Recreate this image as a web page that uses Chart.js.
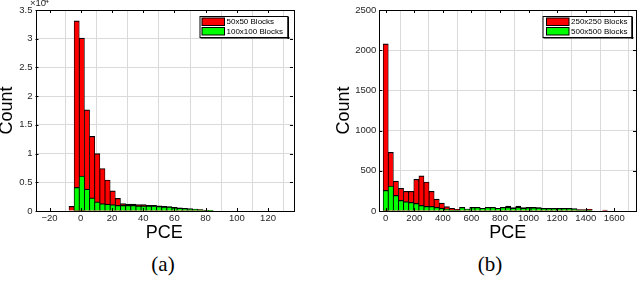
<!DOCTYPE html>
<html>
<head>
<meta charset="utf-8">
<script src="https://cdn.jsdelivr.net/npm/chart.js@4"></script>
<style>
  html, body { margin: 0; padding: 0; background: #fff; width: 638px; height: 282px; overflow: hidden; }
  canvas { position: absolute; top: 0; }
  #histA { left: 0; }
  #histB { left: 320px; }
  .cap { position: absolute; top: 252px; font-family: 'Liberation Serif', serif; font-size: 21px; color: #000; text-align: center; }
</style>
</head>
<body>
<canvas id="histA" width="320" height="245"></canvas>
<canvas id="histB" width="318" height="245"></canvas>
<div class="cap" style="left:113px;width:100px">(a)</div>
<div class="cap" style="left:440px;width:100px">(b)</div>
<script>
/* Histogramas PCE: (a) bloques pequeños, (b) bloques grandes */

// ---- Datos (a): centros de bin y cuentas (x10^4) ----
const pceA = [-5.9, -2.6, 0.7, 4.0, 7.3, 10.6, 13.9, 17.2, 20.5, 23.8, 27.1, 30.4, 33.7, 37.0,
  40.3, 43.6, 46.9, 50.2, 53.5, 56.8, 60.1, 63.4, 66.7, 70.0, 73.3, 76.6, 79.9, 83.2];
const blocks50 = [0.08, 3.31, 3.01, 1.76, 1.30, 1.00, 0.74, 0.54, 0.35, 0.22, 0.13, 0.12, 0.12, 0.11,
  0.11, 0.10, 0.10, 0.09, 0.08, 0.075, 0.065, 0.055, 0.045, 0.04, 0.035, 0.025, 0.015, 0.01];
const blocks100 = [0, 0.41, 0.61, 0.38, 0.23, 0.16, 0.13, 0.12, 0.11, 0.10, 0.10, 0.10, 0.10, 0.09,
  0.09, 0.09, 0.09, 0.08, 0.07, 0.07, 0.06, 0.05, 0.04, 0.03, 0.03, 0.02, 0.01, 0.005];
const ticksAX = [-20, 0, 20, 40, 60, 80, 100, 120];
const ticksAY = [0, 0.5, 1, 1.5, 2, 2.5, 3, 3.5];

// ---- Datos (b) ----
const pceB = [0, 35.7, 71.4, 107.1, 142.8, 178.5, 214.2, 249.9, 285.6, 321.3, 357.0, 392.7, 428.4,
  464.1, 499.8, 535.5, 571.2, 606.9, 642.6, 678.3, 714.0, 749.7, 785.4, 821.1, 856.8, 892.5, 928.2,
  963.9, 999.6, 1035.3, 1071.0, 1106.7, 1142.4, 1178.1, 1213.8, 1249.5, 1285.2, 1320.9, 1356.6,
  1392.3, 1428.0, 1463.7, 1499.4, 1535.1];
const blocks250 = [2080, 730, 373, 282, 245, 245, 394, 436, 361, 245, 149, 98, 55, 33, 21, 46, 25,
  46, 46, 33, 46, 46, 33, 46, 62, 42, 62, 42, 46, 46, 42, 33, 33, 33, 33, 33, 33, 30, 18, 18, 20, 0, 0, 10];
const blocks500 = [257, 311, 195, 133, 116, 108, 95, 70, 58, 58, 46, 37, 25, 10, 8, 46, 25,
  46, 46, 33, 46, 46, 33, 46, 46, 33, 46, 33, 42, 42, 38, 28, 28, 28, 28, 28, 28, 25, 8, 8, 8, 0, 0, 0];
const ticksBX = [0, 200, 400, 600, 800, 1000, 1200, 1400, 1600];
const ticksBY = [0, 500, 1000, 1500, 2000, 2500];

const RED = '#ff0000';
const GREEN = '#00ff00';
const TICK_FONT = { family: "'Liberation Sans', Arial, sans-serif", size: 9.5 };
const fmt = (v) => (v < 0 ? '\u2212' + Math.abs(v) : String(v));

// marco estilo MATLAB: caja, ticks hacia dentro, leyenda interior, exponente
const frame = {
  id: 'frame',
  afterDatasetsDraw(chart, args, opts) {
    const { ctx, chartArea: a, scales } = chart;
    ctx.save();
    ctx.strokeStyle = '#000';
    ctx.lineWidth = 1;
    ctx.beginPath();
    scales.x.ticks.forEach((t) => {
      const px = Math.round(scales.x.getPixelForValue(t.value)) + 0.5;
      ctx.moveTo(px, a.bottom); ctx.lineTo(px, a.bottom - 3);
      ctx.moveTo(px, a.top); ctx.lineTo(px, a.top + 3);
    });
    scales.y.ticks.forEach((t) => {
      const py = Math.round(scales.y.getPixelForValue(t.value)) + 0.5;
      ctx.moveTo(a.left, py); ctx.lineTo(a.left + 3, py);
      ctx.moveTo(a.right, py); ctx.lineTo(a.right - 3, py);
    });
    ctx.stroke();
    ctx.strokeRect(Math.round(a.left) + 0.5, Math.round(a.top) + 0.5,
      Math.round(a.right - a.left), Math.round(a.bottom - a.top));

    // leyenda
    const L = opts.legend;
    ctx.fillStyle = '#fff';
    ctx.fillRect(L.x, L.y, L.w, L.h);
    ctx.strokeRect(L.x + 0.5, L.y + 0.5, L.w, L.h);
    ctx.fillStyle = '#000';
    ctx.fillRect(L.x + 1, L.y + L.h, L.w + 1, 1.5);
    ctx.fillRect(L.x + L.w, L.y + 1, 1.5, L.h + 1);
    ctx.font = "8px 'Liberation Sans', Arial, sans-serif";
    ctx.textBaseline = 'middle';
    chart.data.datasets.forEach((ds, i) => {
      const y = L.y + 1.5 + i * 9.5;
      ctx.fillStyle = '#000';
      ctx.fillRect(L.px, y, L.pw, 8.5);
      ctx.fillStyle = ds.backgroundColor;
      ctx.fillRect(L.px + 1, y + 1, L.pw - 2, 6.5);
      ctx.fillStyle = '#000';
      ctx.fillText(ds.label, L.px + L.pw + 1.5, y + 4.5);
    });

    if (opts.exponent) {
      ctx.fillStyle = '#262626';
      ctx.textBaseline = 'alphabetic';
      ctx.font = "9.5px 'Liberation Sans', Arial, sans-serif";
      ctx.fillText('\u00d710', 30, 6);
      ctx.font = "7px 'Liberation Sans', Arial, sans-serif";
      ctx.fillText('4', 45, 2.5);
    }
    ctx.restore();
  },
};

function histograma(id, c) {
  const bar = (label, data, color, order) => ({
    label, data, order,
    backgroundColor: color,
    borderColor: '#000',
    borderWidth: { top: 1.2, left: 0.8, right: 0.8, bottom: 0 },
    borderSkipped: false,
    barPercentage: 1,
    categoryPercentage: 1,
    grouped: false,
  });
  return new Chart(document.getElementById(id), {
    type: 'bar',
    data: {
      labels: c.x,
      datasets: [bar(c.names[0], c.a, RED, 1), bar(c.names[1], c.b, GREEN, 0)],
    },
    options: {
      responsive: false,
      animation: false,
      devicePixelRatio: 1,
      layout: { padding: c.padding },
      plugins: {
        legend: { display: false },
        tooltip: { enabled: false },
        frame: { legend: c.legend, exponent: c.exponent },
      },
      scales: {
        x: {
          type: 'linear', min: c.xMin, max: c.xMax, offset: false,
          afterBuildTicks: (s) => { s.ticks = c.xTicks.map((v) => ({ value: v })); },
          afterFit: (s) => { s.height = 31; },
          ticks: { font: TICK_FONT, color: '#262626', padding: 1.5, maxRotation: 0, callback: fmt },
          grid: { color: '#dadada', drawTicks: false },
          border: { display: false },
          title: { display: true, text: 'PCE', color: '#000', padding: 0,
            font: { family: "'Liberation Sans', Arial, sans-serif", size: 18, lineHeight: 1 } },
        },
        y: {
          min: 0, max: c.yMax,
          afterBuildTicks: (s) => { s.ticks = c.yTicks.map((v) => ({ value: v })); },
          afterFit: (s) => { s.width = c.yWidth; },
          ticks: { font: TICK_FONT, color: '#262626', padding: 3, callback: fmt },
          grid: { color: '#dadada', drawTicks: false },
          border: { display: false },
          title: { display: true, text: 'Count', color: '#000', padding: 0,
            font: { family: "'Liberation Sans', Arial, sans-serif", size: 18, lineHeight: 0.74 } },
        },
      },
    },
    plugins: [frame],
  });
}

histograma('histA', {
  x: pceA, a: blocks50, b: blocks100, names: ['50x50 Blocks', '100x100 Blocks'],
  xMin: -29, xMax: 136, yMax: 3.5, xTicks: ticksAX, yTicks: ticksAY,
  padding: { left: 0, top: 10, right: 27, bottom: 3 }, yWidth: 35.5,
  legend: { x: 199.5, y: 16, w: 88, h: 21, px: 201.5, pw: 23.5 },
  exponent: true,
});

histograma('histB', {
  x: pceB, a: blocks250, b: blocks500, names: ['250x250 Blocks', '500x500 Blocks'],
  xMin: -45, xMax: 1752, yMax: 2500, xTicks: ticksBX, yTicks: ticksBY,
  padding: { left: 17.8, top: 10, right: 2, bottom: 3 }, yWidth: 41.5,
  legend: { x: 222.5, y: 16, w: 89, h: 21, px: 226, pw: 23.5 },
  exponent: false,
});
</script>
</body>
</html>
